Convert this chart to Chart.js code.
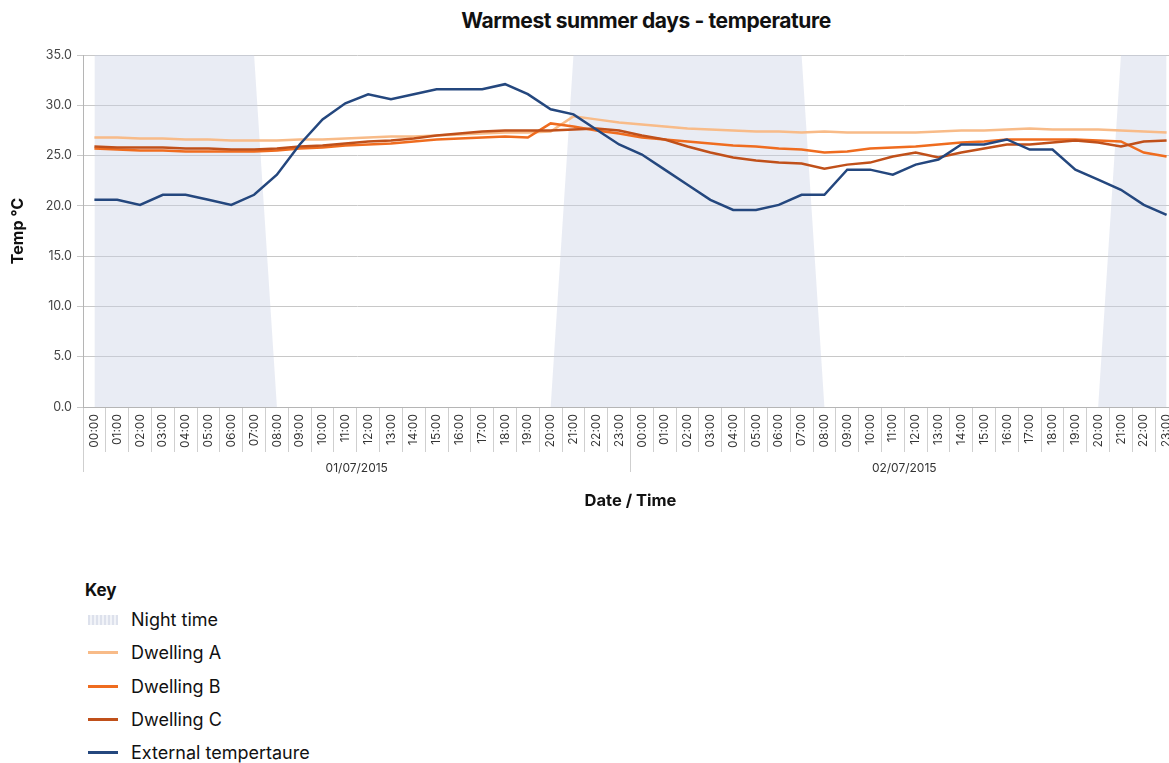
<!DOCTYPE html>
<html>
<head>
<meta charset="utf-8">
<script src="https://cdn.jsdelivr.net/npm/chart.js@4.4.0/dist/chart.umd.min.js"></script>
<style>
  html, body { margin: 0; padding: 0; background: #fff; overflow: hidden; }
  body { width: 1169px; height: 763px; position: relative; font-family: Inter, "Noto Sans", sans-serif; color: #111; }
  #wrap { position: absolute; left: 0; top: 0; width: 1178px; height: 520px; }
  #title { position: absolute; top: 8px; left: 0; width: 1292px; text-align: center; font-weight: 700; font-size: 21px; letter-spacing: -0.4px; }
  #legend { position: absolute; left: 85px; top: 577px; }
  #legend .key { font-weight: 700; font-size: 17px; height: 26px; line-height: 26px; }
  #legend .item { display: flex; align-items: center; height: 33.3px; font-size: 18px; }
  #legend .sw { width: 30px; margin: 0 13px 0 3px; }
</style>
</head>
<body>
<div id="title">Warmest summer days - temperature</div>
<div id="wrap"><canvas id="myChart" width="1178" height="520"></canvas></div>
<div id="legend"><div class="key">Key</div><div id="items"></div></div>
<script>
// Hour labels for one day, two days shown
const hours = ['00:00','01:00','02:00','03:00','04:00','05:00','06:00','07:00','08:00','09:00','10:00','11:00',
  '12:00','13:00','14:00','15:00','16:00','17:00','18:00','19:00','20:00','21:00','22:00','23:00'];
const dates = ['01/07/2015', '02/07/2015'];

// Night time band (35 = night, 0 = day)
const nightTime = [35,35,35,35,35,35,35,35, 0,0,0,0,0,0,0,0,0,0,0,0,0, 35,35,35,
  35,35,35,35,35,35,35,35, 0,0,0,0,0,0,0,0,0,0,0,0,0, 35,35,35];

const dwellingA = [26.8, 26.8, 26.7, 26.7, 26.6, 26.6, 26.5, 26.5, 26.5, 26.6, 26.6, 26.7,
  26.8, 26.9, 26.9, 27.0, 27.1, 27.2, 27.3, 27.3, 27.4, 28.9, 28.6, 28.3,
  28.1, 27.9, 27.7, 27.6, 27.5, 27.4, 27.4, 27.3, 27.4, 27.3, 27.3, 27.3,
  27.3, 27.4, 27.5, 27.5, 27.6, 27.7, 27.6, 27.6, 27.6, 27.5, 27.4, 27.3];

const dwellingB = [25.7, 25.6, 25.5, 25.5, 25.4, 25.4, 25.4, 25.4, 25.5, 25.7, 25.8, 26.0,
  26.1, 26.2, 26.4, 26.6, 26.7, 26.8, 26.9, 26.8, 28.2, 27.9, 27.5, 27.2,
  26.8, 26.6, 26.4, 26.2, 26.0, 25.9, 25.7, 25.6, 25.3, 25.4, 25.7, 25.8,
  25.9, 26.1, 26.3, 26.4, 26.6, 26.6, 26.6, 26.6, 26.5, 26.4, 25.3, 24.9];

const dwellingC = [25.9, 25.8, 25.8, 25.8, 25.7, 25.7, 25.6, 25.6, 25.7, 25.9, 26.0, 26.2,
  26.4, 26.5, 26.7, 27.0, 27.2, 27.4, 27.5, 27.5, 27.5, 27.6, 27.7, 27.5,
  27.0, 26.6, 25.9, 25.3, 24.8, 24.5, 24.3, 24.2, 23.7, 24.1, 24.3, 24.9,
  25.3, 24.8, 25.3, 25.7, 26.1, 26.1, 26.3, 26.5, 26.3, 25.9, 26.4, 26.5];

const externalTemp = [20.6, 20.6, 20.1, 21.1, 21.1, 20.6, 20.1, 21.1, 23.1, 26.1, 28.6, 30.2,
  31.1, 30.6, 31.1, 31.6, 31.6, 31.6, 32.1, 31.1, 29.6, 29.1, 27.6, 26.1,
  25.1, 23.6, 22.1, 20.6, 19.6, 19.6, 20.1, 21.1, 21.1, 23.6, 23.6, 23.1,
  24.1, 24.6, 26.1, 26.1, 26.6, 25.6, 25.6, 23.6, 22.6, 21.6, 20.1, 19.1];

const labels = hours.concat(hours);
const tickFont = { family: 'Inter', size: 12 };

// Function to build a line dataset
function lineSet(label, values, color, order) {
  return {
    label: label,
    data: values,
    borderColor: color,
    backgroundColor: color,
    borderWidth: 2.5,
    pointRadius: 0,
    tension: 0,
    fill: false,
    order: order
  };
}

const data = {
  labels: labels,
  datasets: [
    {
      label: 'Night time',
      data: nightTime,
      borderWidth: 0,
      borderColor: 'rgba(0,0,0,0)',
      backgroundColor: 'rgba(200,208,228,0.4)',
      pointRadius: 0,
      tension: 0,
      fill: 'origin',
      order: 10
    },
    lineSet('Dwelling A', dwellingA, '#f8bb88', 4),
    lineSet('Dwelling B', dwellingB, '#ef6c1f', 3),
    lineSet('Dwelling C', dwellingC, '#c0501a', 2),
    lineSet('External tempertaure', externalTemp, '#24477e', 1)
  ]
};

const config = {
  type: 'line',
  data: data,
  options: {
    responsive: false,
    animation: false,
    layout: { padding: { top: 55, left: 0, right: 0, bottom: 3 } },
    plugins: {
      legend: { display: false },
      title: { display: false },
      tooltip: { enabled: false }
    },
    scales: {
      y: {
        min: 0,
        max: 35,
        afterFit: scale => { scale.width = 83; },
        ticks: {
          stepSize: 5,
          color: '#444',
          font: { family: 'Inter', size: 12.5 },
          padding: 5,
          callback: v => v.toFixed(1)
        },
        grid: { color: '#c8c8c8', tickLength: 6 },
        border: { color: '#b5b5b5' },
        title: {
          display: true,
          text: 'Temp °C',
          color: '#111',
          font: { family: 'Inter', size: 16, weight: 'bold' },
          padding: { top: 9, bottom: 0 }
        }
      },
      x: {
        offset: true,
        afterFit: scale => { scale.height = 45; },
        ticks: {
          color: '#333',
          font: tickFont,
          minRotation: 90,
          maxRotation: 90,
          autoSkip: false,
          padding: -38
        },
        grid: { offset: true, drawOnChartArea: false, color: '#cfcfcf', tickLength: 45 },
        border: { color: '#b5b5b5' }
      },
      x2: {
        type: 'category',
        labels: dates,
        offset: true,
        afterFit: scale => { scale.height = 65; },
        ticks: { color: '#333', font: tickFont, padding: -11 },
        grid: { offset: true, drawOnChartArea: false, color: '#cfcfcf', tickLength: 20 },
        border: { display: false },
        title: {
          display: true,
          text: 'Date / Time',
          color: '#111',
          font: { family: 'Inter', size: 16.5, weight: 'bold' },
          padding: { top: 0, bottom: 6 }
        }
      }
    }
  }
};

const myChart = new Chart('myChart', config);

// Function to build the key below the chart
function buildKey(chart) {
  const box = document.getElementById('items');
  chart.data.datasets.forEach(ds => {
    const item = document.createElement('div');
    item.className = 'item';
    const sw = document.createElement('span');
    sw.className = 'sw';
    if (ds.fill === 'origin') {
      sw.style.height = '10px';
      sw.style.background = 'repeating-linear-gradient(90deg, #dde1ec 0 2px, #f1f3f8 2px 4px)';
    } else {
      sw.style.height = '3px';
      sw.style.background = ds.borderColor;
    }
    item.appendChild(sw);
    item.appendChild(document.createTextNode(ds.label));
    box.appendChild(item);
  });
}

buildKey(myChart);
</script>
</body>
</html>
